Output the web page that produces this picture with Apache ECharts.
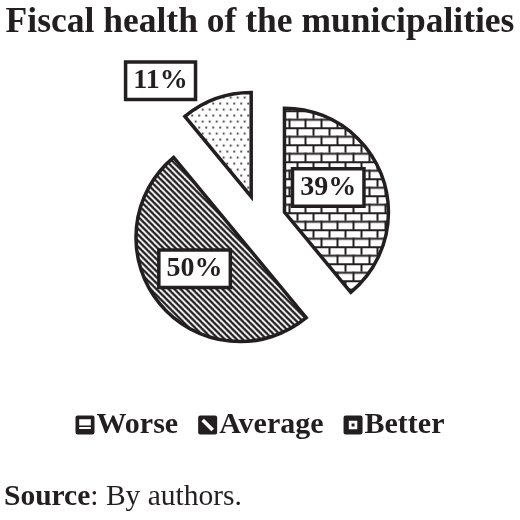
<!DOCTYPE html>
<html>
<head>
<meta charset="utf-8">
<script src="https://cdn.jsdelivr.net/npm/echarts@6/dist/echarts.min.js"></script>
<style>
html,body{margin:0;padding:0;background:#fff;}
#chart{width:520px;height:520px;}
</style>
</head>
<body>
<div id="chart"></div>
<script>
const categories = ['Worse', 'Average', 'Better'];
const values = [39, 50, 11];
const titleText = 'Fiscal health of the municipalities';
const sourceBold = 'Source';
const sourceRest = ': By authors.';

const INK = '#231f20';
const SERIF = '"Liberation Serif", "Times New Roman", serif';

function makeTile(w, h, draw) {
  const c = document.createElement('canvas');
  c.width = w; c.height = h;
  const ctx = c.getContext('2d');
  ctx.fillStyle = '#fff';
  ctx.fillRect(0, 0, w, h);
  ctx.fillStyle = INK;
  ctx.strokeStyle = INK;
  draw(ctx);
  return c;
}
const brick = makeTile(16, 17, ctx => {
  ctx.fillRect(0, 0, 16, 2);
  ctx.fillRect(0, 8.5, 16, 2);
  ctx.fillRect(0, 0, 2, 8.5);
  ctx.fillRect(8, 8.5, 2, 8.5);
});
const diag = makeTile(6, 6, ctx => {
  ctx.lineWidth = 2.3;
  [-6, 0, 6].forEach(o => {
    ctx.beginPath();
    ctx.moveTo(o - 1, -1);
    ctx.lineTo(o + 7, 7);
    ctx.stroke();
  });
});
const dots = makeTile(7, 12, ctx => {
  ctx.beginPath(); ctx.arc(1.5, 2, 1, 0, Math.PI * 2); ctx.fill();
  ctx.beginPath(); ctx.arc(5, 8, 1, 0, Math.PI * 2); ctx.fill();
});
const patterns = [brick, diag, dots];

const outer = 'M2 0 H16 Q18 0 18 2 V16 Q18 18 16 18 H2 Q0 18 0 16 V2 Q0 0 2 0 Z ';
const icons = [
  'path://' + outer + 'M3.5 3.5 V9.5 H14.5 V3.5 Z M3.5 11 V12.8 H14.5 V11 Z',
  'path://' + outer + 'M3 5.5 L12.5 15 L15 12.5 L5.5 3 Z',
  'path://' + outer + 'M5 5 V13 H13 V5 Z M7.6 7.6 H10.4 V10.4 H7.6 Z'
];

const chart = echarts.init(document.getElementById('chart'));
chart.setOption({
  animation: false,
  backgroundColor: '#fff',
  title: [
    {
      text: titleText,
      left: 'center',
      top: 5,
      padding: 0,
      textStyle: { fontFamily: SERIF, fontWeight: 'bold', fontSize: 35.5, color: INK }
    },
    {
      text: '{b|' + sourceBold + '}' + sourceRest,
      left: 4,
      top: 482,
      padding: 0,
      textStyle: {
        fontFamily: SERIF, fontWeight: 'normal', fontSize: 29.5, color: INK,
        rich: { b: { fontFamily: SERIF, fontWeight: 'bold', fontSize: 29.5, color: INK } }
      }
    }
  ],
  legend: {
    top: 405,
    left: 'center',
    itemWidth: 19,
    itemHeight: 19,
    itemGap: 20,
    selectedMode: false,
    itemStyle: { color: INK, borderWidth: 0 },
    textStyle: { fontFamily: SERIF, fontWeight: 'bold', fontSize: 30, color: INK, padding: [0, 0, 0, -3] },
    data: categories.map((n, i) => ({ name: n, icon: icons[i] }))
  },
  series: [{
    type: 'pie',
    center: [260, 221],
    radius: 104,
    startAngle: 90,
    clockwise: true,
    selectedMode: 'multiple',
    selectedOffset: 26,
    emphasis: { disabled: true },
    itemStyle: { borderColor: INK, borderWidth: 3.5, borderJoin: 'miter' },
    label: {
      show: true,
      position: 'inside',
      formatter: '{c}%',
      fontFamily: SERIF,
      fontWeight: 'bold',
      fontSize: 28,
      color: INK,
      backgroundColor: '#fff',
      borderColor: INK,
      borderWidth: 3.5,
      padding: [4, 6, 2, 6]
    },
    labelLine: { show: false },
    labelLayout: function (p) {
      if (p.dataIndex === 2) return { dx: -72, dy: -64 };
      if (p.dataIndex === 0) return { dx: -8, dy: -6 };
      if (p.dataIndex === 1) return { dx: -3, dy: -4 };
      return {};
    },
    data: categories.map((n, i) => ({
      name: n,
      value: values[i],
      selected: true,
      itemStyle: { color: { image: patterns[i], repeat: 'repeat' } }
    }))
  }]
});
</script>
</body>
</html>
